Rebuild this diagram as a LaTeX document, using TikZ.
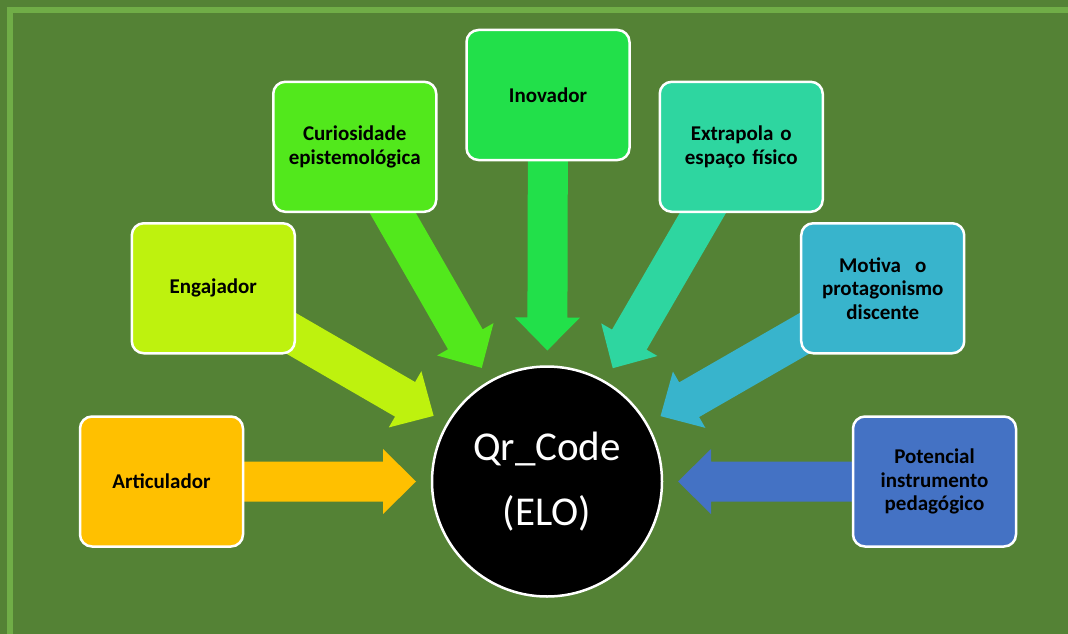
\documentclass[tikz,border=0pt]{standalone}
\usepackage{fontspec}
\setmainfont{Carlito}
\usetikzlibrary{calc}
\pgfdeclarelayer{back}
\pgfdeclarelayer{mid}
\pgfsetlayers{back,mid,main}
\definecolor{bggreen}{HTML}{548235}
\definecolor{framegreen}{HTML}{70AD47}
\definecolor{cArt}{HTML}{FFC000}
\definecolor{cEng}{HTML}{BEF20E}
\definecolor{cCur}{HTML}{52E81C}
\definecolor{cIno}{HTML}{22E04A}
\definecolor{cExt}{HTML}{2ED6A0}
\definecolor{cMot}{HTML}{38B4CC}
\definecolor{cPot}{HTML}{4472C4}
\newcommand\radarrow[2]{%
  \begin{pgfonlayer}{mid}
  \path ($(c.center)!131pt!(#1.center)$) coordinate (#1-tip)
        ($(c.center)!164pt!(#1.center)$) coordinate (#1-hb);
  \fill[#2] ($(#1.center)!20pt!90:(#1-tip)$) -- ($(#1-hb)!20pt!90:(#1-tip)$)
    -- ($(#1-hb)!32.5pt!90:(#1-tip)$) -- (#1-tip)
    -- ($(#1-hb)!32.5pt!-90:(#1-tip)$) -- ($(#1-hb)!20pt!-90:(#1-tip)$)
    -- ($(#1.center)!20pt!-90:(#1-tip)$) -- cycle;
  \end{pgfonlayer}}
\tikzset{
  box/.style={draw=white, line width=2.5pt, rounded corners=12pt,
    minimum width=163pt, minimum height=130pt, inner sep=0pt,
    text width=150pt, align=center,
    font=\bfseries\fontsize{21}{23.5}\selectfont, text=black},
  hub/.style={circle, draw=white, fill=black, line width=2.5pt,
    minimum size=230pt, inner sep=0pt, align=center, text=white,
    font=\fontsize{41}{65}\selectfont}
}
\begin{document}
\begin{tikzpicture}[x=1pt,y=-1pt]
\useasboundingbox (0,0) rectangle (1068,634);
\begin{pgfonlayer}{back}
  \fill[bggreen] (0,0) rectangle (1068,634);
  \draw[framegreen, line width=6pt] (1068,10) -- (10,10) -- (10,634);
\end{pgfonlayer}
\coordinate (o) at (548,481.5);
\node[hub] (c) at (547,481.5) {Qr\_Code\\(ELO)};
\node[box, fill=cArt] (art) at ($(o)+(180:386.5pt)$) {Articulador};
\node[box, fill=cEng] (eng) at ($(o)+(150:386.5pt)$) {Engajador};
\node[box, fill=cCur] (cur) at ($(o)+(120:386.5pt)$) {Curiosidade\\epistemológica};
\node[box, fill=cIno] (ino) at ($(o)+(90:386.5pt)$) {Inovador};
\node[box, fill=cExt] (ext) at ($(o)+(60:386.5pt)$) {Extrapola o\\espaço físico};
\node[box, fill=cMot] (mot) at ($(o)+(30:386.5pt)$) {Motiva\ \ o\\protagonismo\\discente};
\node[box, fill=cPot] (pot) at ($(o)+(0:386.5pt)$) {Potencial\\instrumento\\pedagógico};
\radarrow{art}{cArt}
\radarrow{eng}{cEng}
\radarrow{cur}{cCur}
\radarrow{ino}{cIno}
\radarrow{ext}{cExt}
\radarrow{mot}{cMot}
\radarrow{pot}{cPot}
\end{tikzpicture}
\end{document}
